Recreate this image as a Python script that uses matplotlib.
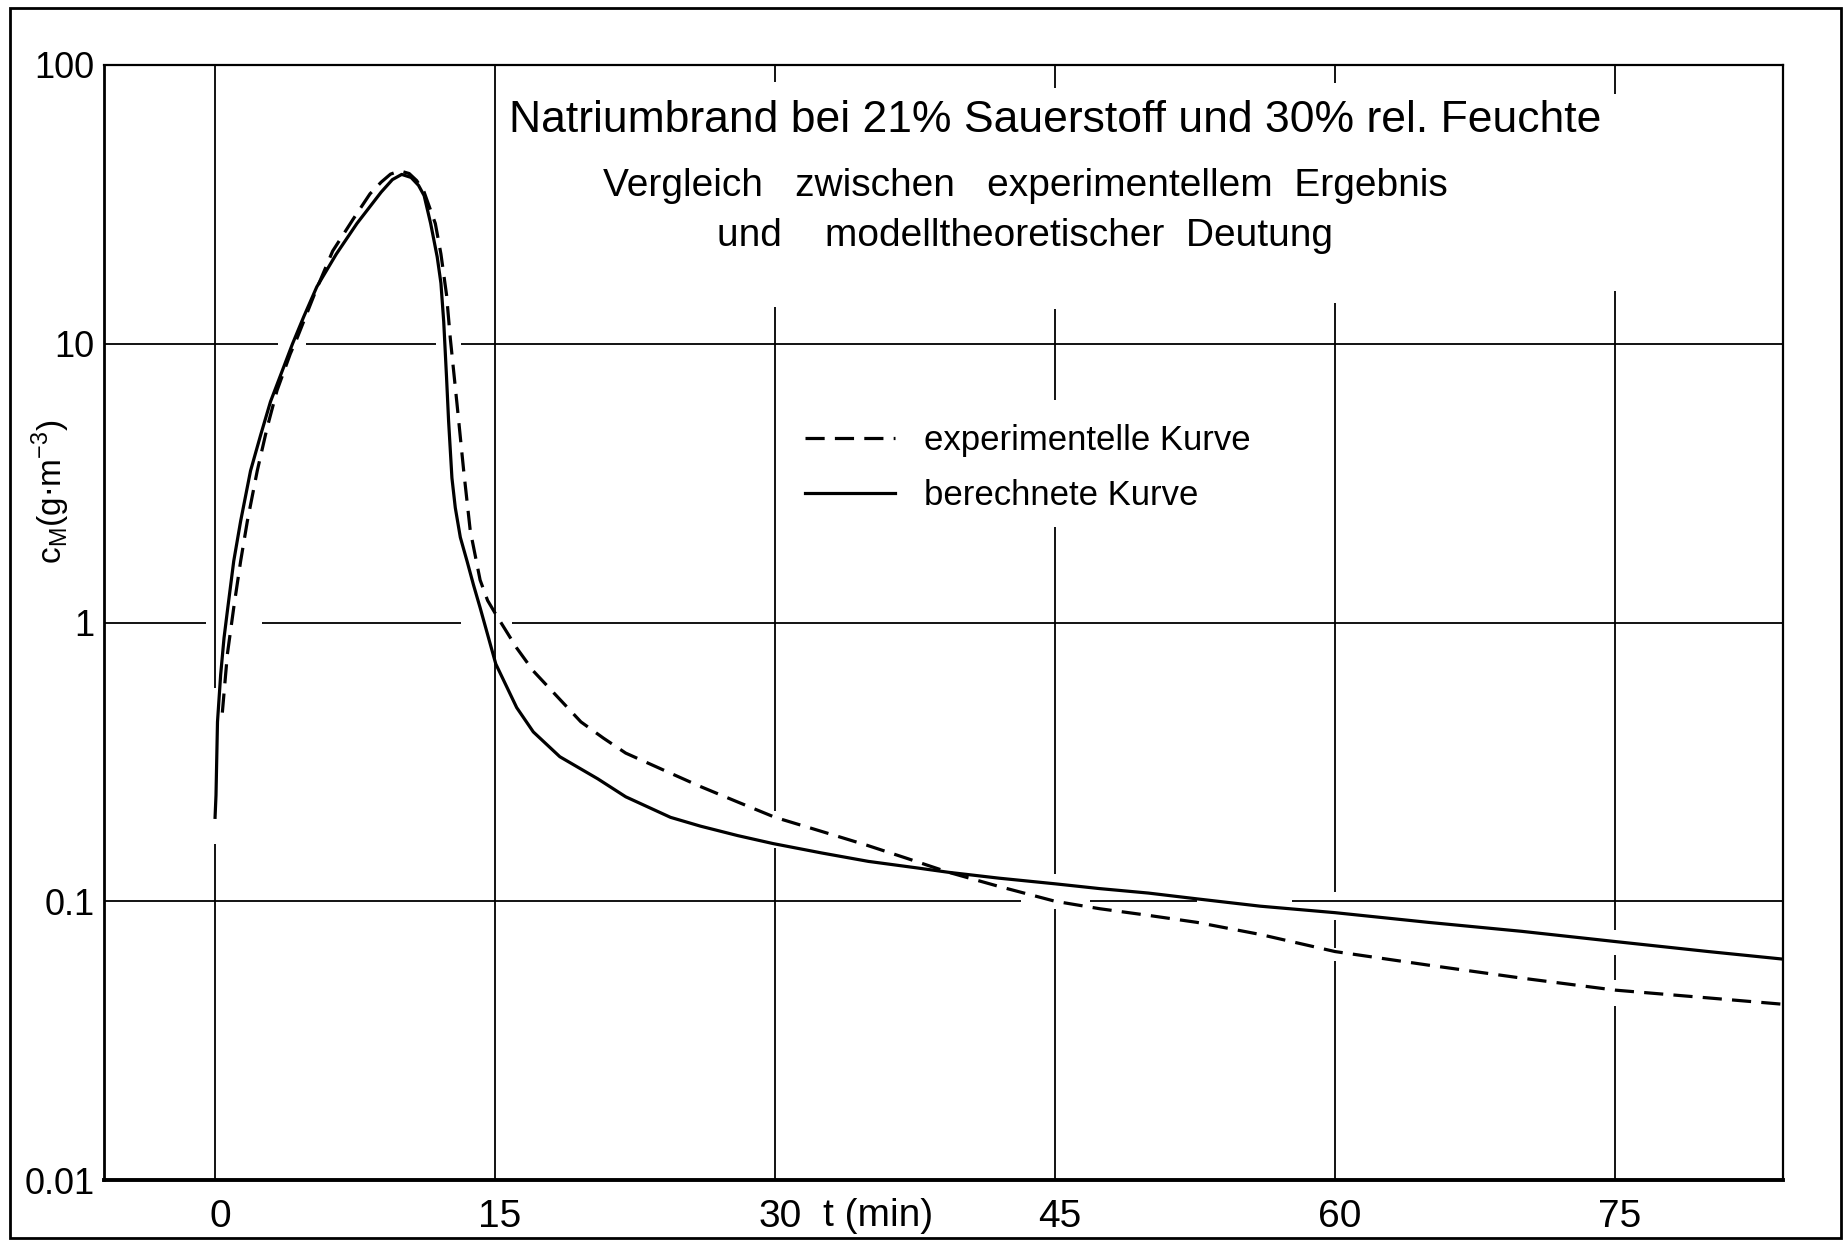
import matplotlib
matplotlib.use('Agg')
import matplotlib.pyplot as plt
import matplotlib.transforms as mtransforms
from matplotlib.patches import Rectangle
from matplotlib.ticker import NullLocator

# berechnete Kurve (Modell)
t_calc = [0.0, 0.05, 0.13, 0.3, 0.48, 0.66, 1.0, 1.37, 1.9, 2.44, 2.97, 3.6, 4.15, 4.75,
          5.45, 6.5, 7.6, 8.9, 9.5, 10.0, 10.5, 10.9, 11.2, 11.55, 11.9, 12.1, 12.25,
          12.4, 12.51, 12.69, 12.87, 13.14, 13.5, 13.85, 14.2, 15.04, 16.16, 17.05, 18.47,
          20.5, 22.0, 24.4, 26.0, 28.0, 29.9, 32.5, 35.0, 37.5, 39.3, 42.0, 45.0,
          47.4, 50.0, 52.6, 56.0, 60.0, 65.0, 70.0, 75.0, 80.0, 84.0]
c_calc = [0.2, 0.24, 0.44, 0.65, 0.88, 1.1, 1.66, 2.31, 3.5, 4.7, 6.2, 8.0, 10.0, 12.5,
          16.0, 21.0, 27.0, 35.0, 38.8, 40.5, 39.5, 37.0, 34.0, 27.0, 20.5, 16.5, 12.0,
          7.6, 5.3, 3.3, 2.58, 2.02, 1.66, 1.36, 1.13, 0.71, 0.495, 0.405, 0.33,
          0.275, 0.237, 0.2, 0.186, 0.172, 0.161, 0.149, 0.139, 0.132, 0.127, 0.121, 0.1155,
          0.111, 0.107, 0.102, 0.096, 0.091, 0.084, 0.078, 0.0717, 0.066, 0.062]

# experimentelle Kurve
t_exp = [0.39, 0.66, 1.0, 1.37, 1.73, 2.26, 2.79, 3.32, 4.03, 4.4, 5.4, 6.3, 7.4, 8.3,
         8.9, 9.4, 9.9, 10.4, 10.8, 11.2, 11.8, 12.1, 12.4, 12.6, 12.96, 13.32, 13.67,
         14.2, 14.6, 15.04, 16.16, 17.05, 18.47, 19.6, 20.8, 22.0, 24.4, 26.0, 28.0,
         30.0, 32.5, 34.9, 37.0, 39.3, 42.0, 45.0, 47.4, 50.0, 52.6, 56.0, 60.0, 65.0,
         70.0, 75.0, 80.0, 84.0]
c_exp = [0.475, 0.77, 1.13, 1.66, 2.31, 3.5, 5.0, 6.8, 9.2, 10.5, 15.5, 21.5, 28.0, 34.5,
         38.0, 40.6, 41.7, 40.8, 38.5, 35.0, 27.0, 21.0, 15.0, 10.5, 6.1, 3.5, 2.14,
         1.42, 1.2, 1.07, 0.81, 0.67, 0.53, 0.44, 0.385, 0.34, 0.288, 0.258, 0.227,
         0.2, 0.178, 0.159, 0.143, 0.127, 0.113, 0.1, 0.094, 0.089, 0.084, 0.076, 0.066, 0.059,
         0.053, 0.048, 0.045, 0.0427]

x_ticks = [0, 15, 30, 45, 60, 75]
y_ticks = [0.01, 0.1, 1, 10, 100]
y_ticklabels = ['0.01', '0.1', '1', '10', '100']

title = 'Natriumbrand bei 21% Sauerstoff und 30% rel. Feuchte'
subtitle = ['Vergleich   zwischen   experimentellem  Ergebnis',
            'und    modelltheoretischer  Deutung']
labels = ['experimentelle Kurve', 'berechnete Kurve']

# Unterbrechungen im Gitter wie in der Zeichnung
vgaps = {0: [(0.16, 0.58)],
         30: [(0.155, 0.21), (13.5, 87)],
         45: [(0.094, 0.125), (2.2, 6.3), (13.3, 83)],
         60: [(0.061, 0.068), (0.086, 0.108), (14, 86)],
         75: [(0.042, 0.052), (0.064, 0.079), (15.5, 79)]}
hgaps = {10: [(3.35, 4.85), (11.85, 13.2)],
         1: [(-0.5, 2.5), (13.2, 15.9)],
         0.1: [(43.2, 46.9), (52.6, 57.7)]}

XMIN, XMAX = -5.95, 84.0
plt.rcParams['font.family'] = ['Liberation Sans', 'DejaVu Sans']


def pieces(lo, hi, gaps):
    pts = [lo]
    for a, b in sorted(gaps):
        pts += [a, b]
    pts.append(hi)
    return list(zip(pts[::2], pts[1::2]))


W, H = 1847, 1242
fig = plt.figure(figsize=(W / 100, H / 100), dpi=100)
ax = fig.add_axes([104 / W, 1 - 1180 / H, (1783 - 104) / W, (1180 - 65) / H])
ax.set_yscale('log')
ax.set_xlim(XMIN, XMAX)
ax.set_ylim(0.01, 100)

for x in x_ticks:
    for a, b in pieces(0.01, 100, vgaps.get(x, [])):
        ax.vlines(x, a, b, color='k', lw=1.3, zorder=1)
for y in [0.1, 1, 10]:
    for a, b in pieces(XMIN, XMAX, hgaps.get(y, [])):
        ax.hlines(y, a, b, color='k', lw=1.3, zorder=1)

ax.plot(t_exp, c_exp, color='k', lw=2.3, ls='--', dashes=(6, 3.2), label=labels[0], zorder=3)
ax.plot(t_calc, c_calc, color='k', lw=2.3, label=labels[1], zorder=3)

ax.yaxis.set_minor_locator(NullLocator())
ax.set_yticks(y_ticks, y_ticklabels)
ax.set_xticks(x_ticks, [str(v) for v in x_ticks])
ax.tick_params(axis='y', length=0, pad=7, labelsize=26)
ax.tick_params(axis='x', length=0, pad=14, labelsize=28)
shift = mtransforms.ScaledTranslation(0.05, 0, fig.dpi_scale_trans)
for lab in ax.get_xticklabels():
    lab.set_transform(lab.get_transform() + shift)
for side, lw in [('left', 2.0), ('bottom', 2.8), ('top', 1.6), ('right', 1.6)]:
    ax.spines[side].set_linewidth(lw)

ax.text(35.5, -0.0323, 't (min)', transform=ax.get_xaxis_transform(),
        ha='center', va='center', fontsize=28)
fig.text(51 / W, 1 - 492 / H, 'c$_\\mathregular{M}$(g$\\cdot$m$^{\\mathregular{-3}}$)',
         rotation=90, ha='center', va='center', fontsize=24)

fig.text(1055 / W, 1 - 121 / H, title, ha='center', va='center', fontsize=32)
fig.text(1025 / W, 1 - 186 / H, subtitle[0], ha='center', va='center', fontsize=28)
fig.text(1025 / W, 1 - 236 / H, subtitle[1], ha='center', va='center', fontsize=28)

leg = ax.legend(loc='upper left', bbox_to_anchor=(805 / W, 1 - 424 / H),
                bbox_transform=fig.transFigure, frameon=False, borderpad=0,
                borderaxespad=0, handlelength=2.6, handletextpad=0.84,
                labelspacing=0.63, prop={'size': 25})

fig.add_artist(Rectangle((10 / W, 4 / H), 1831 / W, 1230 / H, transform=fig.transFigure,
                         fill=False, lw=2.0, ec='k'))

fig.savefig('out.png', dpi=100, facecolor='white')
